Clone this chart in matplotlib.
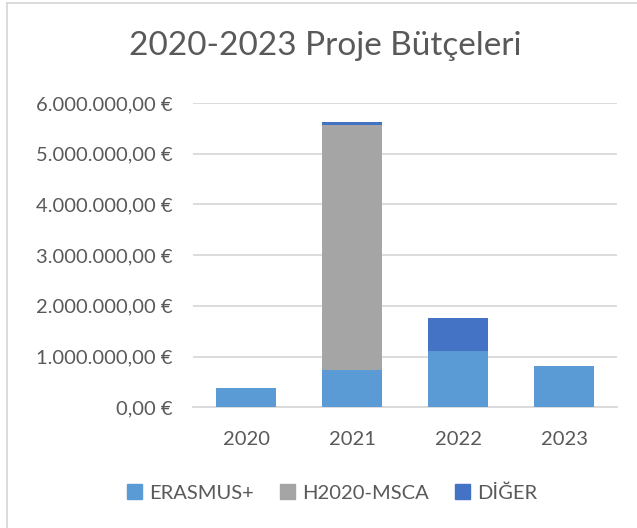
import matplotlib
matplotlib.use("Agg")
import matplotlib.pyplot as plt
from matplotlib.lines import Line2D
from matplotlib.patches import Patch
import numpy as np

years = ["2020", "2021", "2022", "2023"]
erasmus = [375000, 736000, 1110000, 810000]
h2020 = [0, 4832000, 0, 0]
diger = [0, 60000, 645000, 0]
series_names = ["ERASMUS+", "H2020-MSCA", "DİĞER"]
colors = ["#5B9BD5", "#A5A5A5", "#4472C4"]
yticks = [0, 1000000, 2000000, 3000000, 4000000, 5000000, 6000000]
title = "2020-2023 Proje Bütçeleri"

def fmt(v):
    s = f"{int(v):,}".replace(",", ".")
    return f"{s},00 €"

plt.rcParams['font.family'] = ['Lato', 'DejaVu Sans']
W, H = 637, 528
fig = plt.figure(figsize=(W / 100, H / 100), dpi=100)
ax = fig.add_axes([193 / W, 1 - 407.3 / H, (617 - 193) / W, (407.3 - 103) / H])

x = np.arange(len(years))
bw = 0.57
ax.bar(x, erasmus, bw, color=colors[0], zorder=3, linewidth=0)
bottom2 = np.array(erasmus)
ax.bar(x, h2020, bw, bottom=bottom2, color=colors[1], zorder=3, linewidth=0)
bottom3 = bottom2 + np.array(h2020)
ax.bar(x, diger, bw, bottom=bottom3, color=colors[2], zorder=3, linewidth=0)

ax.set_xlim(-0.5, len(years) - 0.5)
ax.set_ylim(0, 6000000)
ax.set_yticks(yticks)
ax.set_yticklabels([fmt(v) for v in yticks])
ax.set_xticks(x)
ax.set_xticklabels(years)
ax.yaxis.grid(True, color="#D9D9D9", linewidth=1.3, zorder=0)
ax.set_axisbelow(True)
for s in ["top", "right", "left"]:
    ax.spines[s].set_visible(False)
ax.spines["bottom"].set_color("#D9D9D9")
ax.spines["bottom"].set_linewidth(1.3)
ax.tick_params(axis="both", length=0, labelsize=14.5, colors="#595959")
ax.tick_params(axis="y", pad=15)
ax.tick_params(axis="x", pad=17)

fig.text(325 / W, 1 - 46 / H, title, ha="center", va="center", fontsize=24, color="#595959")

handles = [Patch(facecolor=c, edgecolor=c) for c in colors]
fig.legend(handles, series_names, loc="center", bbox_to_anchor=(332 / W, 1 - 493 / H),
           ncol=3, frameon=False, fontsize=14.5, handlelength=0.75, handleheight=0.75,
           handletextpad=0.35, columnspacing=1.3, labelcolor="#595959")

# chart border (partially cropped)
fig.add_artist(Line2D([7 / W, 7 / W], [0, 1 - 3 / H], color="#D9D9D9", linewidth=1.3, transform=fig.transFigure))
fig.add_artist(Line2D([7 / W, 1], [1 - 3 / H, 1 - 3 / H], color="#D9D9D9", linewidth=1.3, transform=fig.transFigure))

fig.savefig("out.png", dpi=100)
